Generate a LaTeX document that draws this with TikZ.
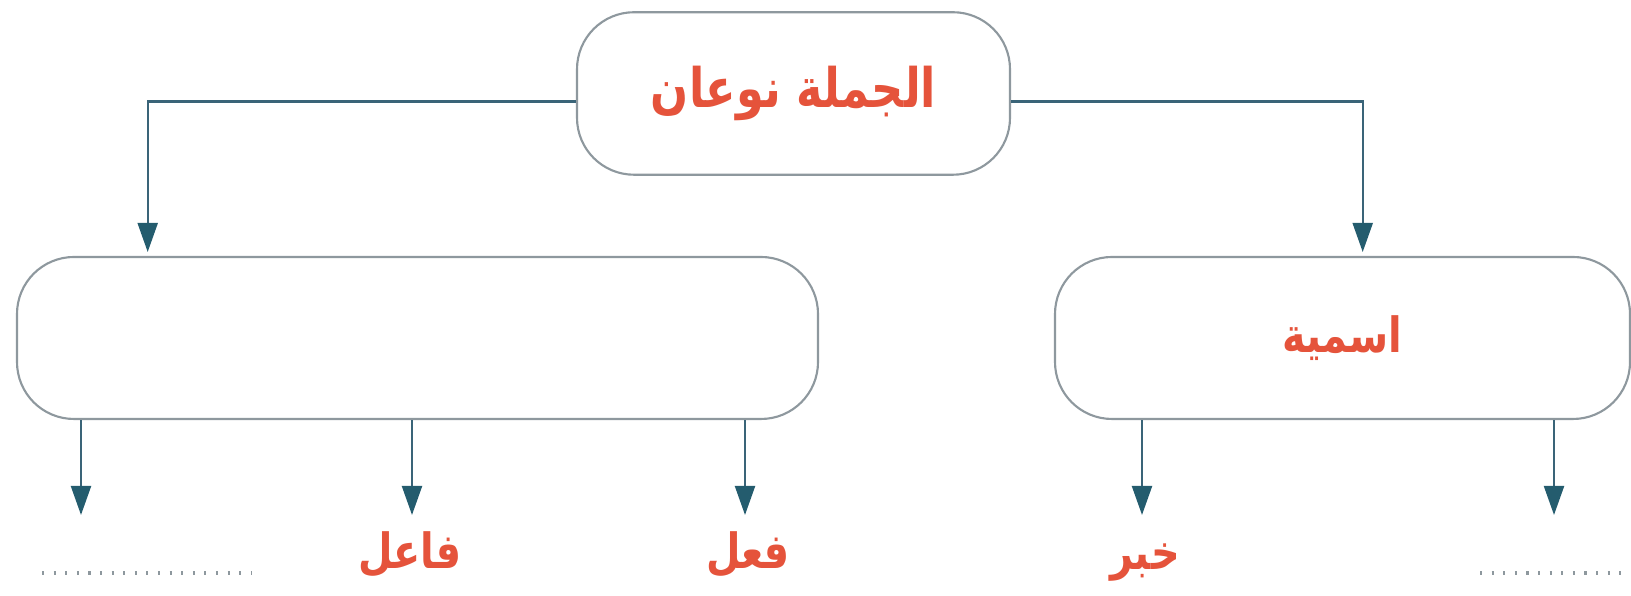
\documentclass[tikz,border=0pt]{standalone}
\usepackage{fontspec}
\newfontfamily\arabicfont[Script=Arabic,FakeStretch=0.82]{DejaVu Sans}
\TeXXeTstate=1
\usetikzlibrary{arrows.meta,positioning}
\definecolor{linkcol}{HTML}{3A6478}
\definecolor{tipcol}{HTML}{245C6E}
\definecolor{boxcol}{HTML}{8E989E}
\definecolor{textcol}{HTML}{E5533B}

\begin{document}
\begin{tikzpicture}
		\tikzstyle{panel}=[draw=boxcol,line width=0.6pt,rounded corners=0.57cm,fill=white,inner sep=0pt]
		\tikzstyle{title}=[text=textcol,font=\arabicfont\bfseries\fontsize{15.5}{18}\selectfont]
		\tikzstyle{word}=[text=textcol,font=\arabicfont\bfseries\fontsize{13.8}{16}\selectfont]
		\tikzstyle{link}=[draw=linkcol,line width=0.6pt,-{Triangle[length=0.29cm,width=0.20cm,color=tipcol]}]
		\tikzstyle{blank}=[draw=boxcol,line width=0.9pt,dash pattern=on 0.6pt off 2.7pt]
		
		\useasboundingbox (0,0) rectangle (16.31,5.96);
		
		\node[panel, minimum width=4.33cm, minimum height=1.625cm] (top) at (7.935,5.025) {};
		\node[title] at (top) {\beginR الجملة نوعان\endR};
		
		\node[panel, minimum width=8.01cm, minimum height=1.62cm] (verbal) at (4.175,2.58) {};
		\node[panel, minimum width=5.75cm, minimum height=1.62cm] (nominal) at (13.425,2.58) {};
		\node[word] at (nominal) {\beginR اسمية\endR};
		
		\coordinate (hookL) at (1.477,3.44);
		\coordinate (hookR) at (13.627,3.44);
		\draw [link] ([yshift=-0.08cm]top.west) -| (hookL);
		\draw [link] ([yshift=-0.08cm]top.east) -| (hookR);
		
		% arrow ends
		\coordinate (endA) at (0.81,0.81);
		\coordinate (endB) at (4.12,0.81);
		\coordinate (endC) at (7.45,0.81);
		\coordinate (endD) at (11.42,0.81);
		\coordinate (endE) at (15.54,0.81);
		\draw [link] (verbal.south -| endA) -- (endA);
		\draw [link] (verbal.south -| endB) -- (endB);
		\draw [link] (verbal.south -| endC) -- (endC);
		\draw [link] (nominal.south -| endD) -- (endD);
		\draw [link] (nominal.south -| endE) -- (endE);
		
		\node[word, anchor=base] (faael) at (4.10,0.27) {\beginR فاعل\endR};
		\node[word, anchor=base] (feel) at (7.48,0.27) {\beginR فعل\endR};
		\node[word, anchor=base] (khabar) at (11.45,0.26) {\beginR خبر\endR};
		\coordinate (dotA1) at (0.42,0.23);
		\coordinate (dotA2) at (2.52,0.23);
		\coordinate (dotE1) at (14.80,0.23);
		\coordinate (dotE2) at (16.25,0.23);
		\draw [blank] (dotA1) -- (dotA2);
		\draw [blank] (dotE1) -- (dotE2);
\end{tikzpicture}
\end{document}
